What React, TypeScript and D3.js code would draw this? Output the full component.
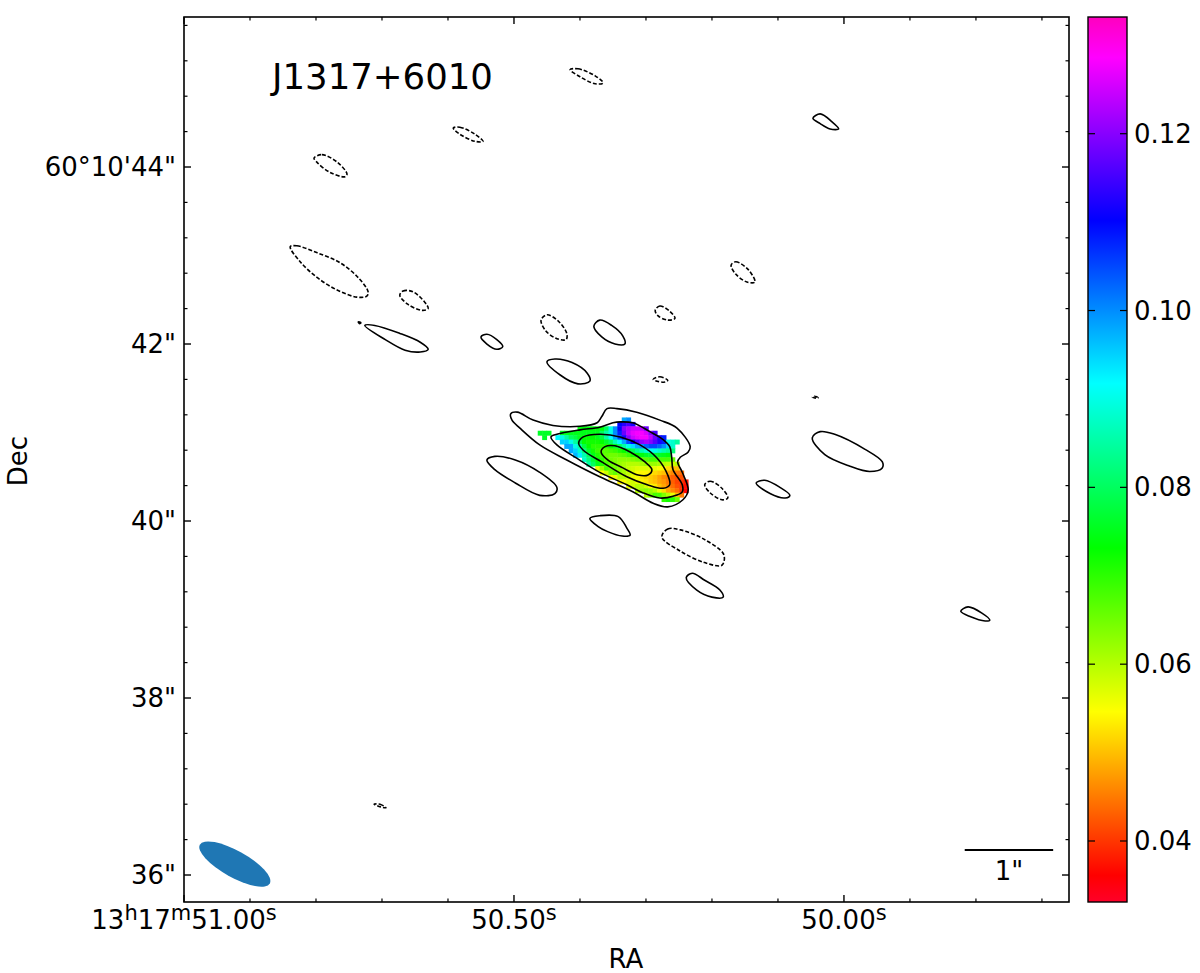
import React from 'react';
import { scaleLinear, line, curveCatmullRomClosed, interpolateRgb } from 'd3';

// colour bar
const vMin = 0.0331;
const vMax = 0.1332;
const colorbarTicks = [0.04, 0.06, 0.08, 0.1, 0.12];
// gist_rainbow
const rainbowStops: [number, string][] = [
  [0, '#ff0029'], [0.03, '#ff0000'], [0.215, '#ffff00'], [0.4, '#00ff00'],
  [0.586, '#00ffff'], [0.77, '#0000ff'], [0.954, '#ff00ff'], [1, '#ff00bf'],
];

// axes: RA seconds of 13h17m, Dec arcsec of 60d10m
const raDomain = [51.0, 49.659];
const decDomain = [35.695, 45.695];
const raMajor = [51.0, 50.5, 50.0];
const raMinor = [50.9, 50.8, 50.7, 50.6, 50.4, 50.3, 50.2, 50.1, 49.9, 49.8, 49.7];
const raLabels = ['51.00', '50.50', '50.00'];
const decMajor = [36, 38, 40, 42, 44];
const decLabels = ['36"', '38"', '40"', '42"', '60°10\'44"'];
const decMinor = [36.4, 36.8, 37.2, 37.6, 38.4, 38.8, 39.2, 39.6, 40.4, 40.8, 41.2, 41.6, 42.4, 42.8, 43.2, 43.6, 44.4, 44.8, 45.2, 45.6];

// index map: row, first column, values
const imageRa0 = 50.464;
const imageDec0 = 41.17;
const cellRa = 0.0067;
const cellDec = 0.05;
const imageRows: [number, number, number[]][] = [
  [0, 19, [0.098, 0.1]],
  [1, 18, [0.11, 0.113, 0.115, 0.112]],
  [2, 9, [0.074, 0.074, 0.074, 0.074, 0.074, 0.074, 0.08, 0.09, 0.1, 0.11, 0.12, 0.123, 0.125, 0.125, 0.124, 0.118]],
  [3, 0, [0.076, 0.076, 0.076]],
  [3, 5, [0.075, 0.075, 0.075, 0.075, 0.075, 0.075, 0.075, 0.075, 0.075, 0.08, 0.085, 0.09, 0.1, 0.108, 0.118, 0.124, 0.127, 0.128, 0.128, 0.126, 0.12, 0.115]],
  [4, 1, [0.076]],
  [4, 4, [0.092, 0.09, 0.085, 0.08, 0.078, 0.075, 0.073, 0.073, 0.073, 0.075, 0.078, 0.085, 0.092, 0.098, 0.105, 0.112, 0.12, 0.125, 0.127, 0.128, 0.128, 0.124, 0.118, 0.112, 0.108]],
  [5, 5, [0.095, 0.095, 0.09, 0.085, 0.078, 0.073, 0.072, 0.072, 0.072, 0.073, 0.076, 0.08, 0.086, 0.092, 0.098, 0.105, 0.11, 0.116, 0.12, 0.122, 0.12, 0.116, 0.112, 0.108, 0.09, 0.088, 0.085]],
  [6, 6, [0.098, 0.098, 0.09, 0.085, 0.078, 0.073, 0.07, 0.07, 0.07, 0.071, 0.073, 0.076, 0.08, 0.085, 0.09, 0.094, 0.098, 0.1, 0.103, 0.105, 0.105, 0.103, 0.1, 0.095, 0.088]],
  [7, 7, [0.098, 0.095, 0.088, 0.082, 0.076, 0.072, 0.069, 0.067, 0.067, 0.068, 0.069, 0.071, 0.073, 0.076, 0.079, 0.083, 0.086, 0.089, 0.091, 0.09, 0.088, 0.086, 0.084, 0.082]],
  [8, 8, [0.097, 0.093, 0.086, 0.08, 0.075, 0.071, 0.068, 0.066, 0.065, 0.065, 0.066, 0.067, 0.069, 0.071, 0.073, 0.074, 0.076, 0.077, 0.077, 0.076, 0.075, 0.074]],
  [9, 10, [0.088, 0.082, 0.077, 0.073, 0.07, 0.067, 0.065, 0.064, 0.063, 0.063, 0.063, 0.064, 0.065, 0.066, 0.067, 0.068, 0.068, 0.068, 0.068, 0.068, 0.066]],
  [10, 11, [0.085, 0.08, 0.075, 0.071, 0.068, 0.066, 0.064, 0.062, 0.061, 0.06, 0.06, 0.06, 0.061, 0.062, 0.062, 0.062, 0.061, 0.06, 0.059, 0.058, 0.06]],
  [11, 13, [0.056, 0.062, 0.068, 0.066, 0.065, 0.063, 0.061, 0.059, 0.058, 0.057, 0.057, 0.057, 0.057, 0.056, 0.055, 0.054, 0.052, 0.05, 0.05]],
  [12, 14, [0.055, 0.058, 0.064, 0.066, 0.063, 0.061, 0.059, 0.057, 0.055, 0.054, 0.054, 0.053, 0.052, 0.051, 0.05, 0.048, 0.046, 0.045, 0.044]],
  [13, 16, [0.054, 0.056, 0.06, 0.06, 0.058, 0.056, 0.055, 0.053, 0.052, 0.051, 0.05, 0.048, 0.046, 0.045, 0.043, 0.042, 0.042]],
  [14, 18, [0.054, 0.055, 0.057, 0.058, 0.056, 0.054, 0.053, 0.051, 0.05, 0.048, 0.047, 0.045, 0.043, 0.041, 0.04, 0.038]],
  [15, 20, [0.056, 0.058, 0.06, 0.06, 0.058, 0.055, 0.053, 0.05, 0.048, 0.046, 0.044, 0.042, 0.04, 0.037]],
  [16, 22, [0.06, 0.062, 0.063, 0.062, 0.06, 0.056, 0.052, 0.048, 0.046, 0.044, 0.04, 0.036]],
  [17, 24, [0.06, 0.064, 0.068, 0.068, 0.064, 0.06, 0.056, 0.05, 0.045]],
  [18, 28, [0.07, 0.072, 0.07, 0.065]],
];

type Pt = [number, number];

// contours as [RA s, Dec arcsec]
const mainOuter: Pt[] = [[50.505,41.21],[50.495,41.23],[50.471,41.14],[50.441,41.08],[50.4,41.07],[50.374,41.11],[50.367,41.18],[50.359,41.27],[50.344,41.27],[50.314,41.23],[50.279,41.14],[50.253,41.05],[50.233,40.84],[50.236,40.78],[50.248,40.72],[50.252,40.67],[50.245,40.55],[50.236,40.35],[50.244,40.24],[50.267,40.16],[50.289,40.2],[50.32,40.33],[50.37,40.5],[50.42,40.69],[50.461,40.86],[50.491,41.05],[50.503,41.14]];
const mainSecond: Pt[] = [[50.444,40.95],[50.435,40.98],[50.4,41.03],[50.37,41.06],[50.35,41.11],[50.339,41.12],[50.32,41.11],[50.294,41.01],[50.274,40.92],[50.264,40.84],[50.261,40.72],[50.259,40.58],[50.245,40.41],[50.245,40.33],[50.259,40.28],[50.279,40.26],[50.305,40.32],[50.329,40.41],[50.37,40.55],[50.405,40.71],[50.435,40.86]];
const mainThird: Pt[] = [[50.402,40.88],[50.395,40.95],[50.37,40.98],[50.339,40.95],[50.309,40.86],[50.283,40.71],[50.267,40.52],[50.264,40.41],[50.274,40.37],[50.298,40.41],[50.329,40.5],[50.365,40.66],[50.395,40.8]];
const mainInner: Pt[] = [[50.368,40.78],[50.362,40.84],[50.347,40.85],[50.324,40.78],[50.302,40.67],[50.291,40.58],[50.297,40.52],[50.312,40.52],[50.335,40.6],[50.358,40.69]];

const solidContours: Pt[][] = [
  mainOuter, mainSecond, mainThird, mainInner,
  [[50.541,40.69],[50.529,40.73],[50.498,40.69],[50.461,40.55],[50.435,40.38],[50.438,40.31],[50.461,40.29],[50.498,40.43],[50.529,40.58]],
  [[50.385,40.03],[50.37,40.06],[50.342,40.05],[50.329,39.92],[50.324,39.84],[50.336,39.83],[50.358,39.88],[50.373,39.94]],
  [[50.239,39.36],[50.23,39.41],[50.211,39.33],[50.188,39.22],[50.183,39.14],[50.2,39.14],[50.223,39.22]],
  [[50.45,41.8],[50.438,41.83],[50.412,41.79],[50.389,41.67],[50.385,41.58],[50.403,41.55],[50.43,41.65]],
  [[50.55,42.08],[50.541,42.11],[50.526,42.05],[50.517,41.97],[50.526,41.94],[50.541,42.0]],
  [[50.379,42.2],[50.37,42.27],[50.352,42.21],[50.335,42.09],[50.332,42.0],[50.347,42.0],[50.367,42.08]],
  [[50.048,40.94],[50.036,41.01],[50.014,40.98],[49.968,40.81],[49.942,40.67],[49.942,40.6],[49.961,40.56],[49.991,40.62],[50.029,40.75]],
  [[50.133,40.43],[50.12,40.46],[50.097,40.38],[50.082,40.29],[50.089,40.26],[50.112,40.31]],
  [[49.823,38.98],[49.812,39.03],[49.791,38.96],[49.779,38.88],[49.786,38.87],[49.809,38.92]],
  [[50.047,44.55],[50.036,44.6],[50.018,44.51],[50.008,44.43],[50.021,44.43],[50.036,44.49]],
  [[50.726,42.21],[50.711,42.21],[50.673,42.12],[50.642,42.02],[50.63,41.94],[50.642,41.91],[50.665,41.93],[50.695,42.05]],
  [[50.736,42.25],[50.732,42.24],[50.734,42.23]],
];

const dashedContours: Pt[][] = [
  [[50.415,45.1],[50.403,45.11],[50.377,45.03],[50.365,44.95],[50.377,44.94],[50.4,45.02]],
  [[50.592,44.44],[50.582,44.45],[50.559,44.37],[50.547,44.29],[50.559,44.29],[50.582,44.37]],
  [[50.803,44.1],[50.791,44.14],[50.767,44.05],[50.753,43.92],[50.756,43.89],[50.779,43.94],[50.798,44.05]],
  [[50.839,43.1],[50.829,43.11],[50.798,43.03],[50.764,42.92],[50.736,42.75],[50.721,42.59],[50.723,42.54],[50.738,42.53],[50.768,42.61],[50.798,42.75],[50.824,42.93]],
  [[50.673,42.55],[50.668,42.6],[50.653,42.59],[50.635,42.47],[50.63,42.4],[50.639,42.38],[50.661,42.45]],
  [[50.459,42.27],[50.45,42.33],[50.433,42.26],[50.42,42.12],[50.421,42.05],[50.435,42.06],[50.452,42.15]],
  [[50.286,42.38],[50.279,42.43],[50.264,42.37],[50.256,42.29],[50.267,42.27],[50.282,42.32]],
  [[50.171,42.89],[50.164,42.93],[50.145,42.84],[50.135,42.7],[50.147,42.7],[50.164,42.79]],
  [[50.211,40.41],[50.203,40.45],[50.185,40.37],[50.176,40.26],[50.185,40.24],[50.203,40.32]],
  [[50.276,39.82],[50.267,39.91],[50.248,39.9],[50.211,39.79],[50.182,39.62],[50.185,39.5],[50.211,39.53],[50.248,39.66]],
  [[50.289,41.6],[50.279,41.63],[50.267,41.59],[50.271,41.57],[50.283,41.58]],
  [[50.048,41.4],[50.044,41.41],[50.039,41.39],[50.044,41.39]],
  [[50.712,36.8],[50.703,36.8],[50.694,36.76],[50.702,36.77]],
];

const beam = { ra: 50.923, dec: 36.124, major: 0.452, minor: 0.15, angle: 29 };
const scaleBarRa = [49.817, 49.683];

const left = 184;
const right = 1069;
const top = 17;
const bottom = 902;
const cbLeft = 1088;
const cbRight = 1127;
const majorLen = 7;
const minorLen = 3.5;
const fontSize = 26;
const supSize = 21;
const font = 'DejaVu Sans';

const x = scaleLinear().domain(raDomain).range([left, right]);
const y = scaleLinear().domain(decDomain).range([bottom, top]);
const cbY = scaleLinear().domain([vMin, vMax]).range([bottom, top]);

const rainbow = scaleLinear<string>()
  .domain(rainbowStops.map(s => s[0]))
  .range(rainbowStops.map(s => s[1]))
  .interpolate(interpolateRgb.gamma(1) as any)
  .clamp(true);
const color = (v: number) => rainbow((v - vMin) / (vMax - vMin));

const contourPath = line<Pt>()
  .x(d => x(d[0]))
  .y(d => y(d[1]))
  .curve(curveCatmullRomClosed.alpha(0.5));

const pxPerArcsec = y(36) - y(37);

const App = () => {
  return (
    <svg width={1200} height={973} style={{ position: 'absolute', left: 0, top: 0 }} fontFamily={font} fontSize={fontSize} fill="#000">
      <defs>
        <linearGradient id="cb" x1="0" y1="1" x2="0" y2="0">
          {rainbowStops.map(s => <stop key={s[0]} offset={s[0]} stopColor={s[1]} />)}
        </linearGradient>
      </defs>

      {imageRows.map(([r, start, values]) => values.map((v, i) => {
        const ra = imageRa0 - (start + i) * cellRa;
        const dec = imageDec0 - r * cellDec;
        return (
          <rect key={r + '-' + start + '-' + i} x={x(ra)} y={y(dec)}
            width={x(ra - cellRa) - x(ra) + 0.5} height={y(dec - cellDec) - y(dec) + 0.5}
            fill={color(v)} />
        );
      }))}

      {solidContours.map((c, i) => (
        <path key={i} d={contourPath(c) as string} fill="none" stroke="#000" strokeWidth={1.6} />
      ))}
      {dashedContours.map((c, i) => (
        <path key={i} d={contourPath(c) as string} fill="none" stroke="#000" strokeWidth={1.6} strokeDasharray="4 2" />
      ))}

      <ellipse
        cx={0} cy={0}
        rx={beam.major * pxPerArcsec} ry={beam.minor * pxPerArcsec}
        fill="#1f77b4"
        transform={`translate(${x(beam.ra)},${y(beam.dec)}) rotate(${beam.angle})`}
      />

      <line x1={x(scaleBarRa[0])} x2={x(scaleBarRa[1])} y1={850} y2={850} stroke="#000" strokeWidth={2} />
      <text x={(x(scaleBarRa[0]) + x(scaleBarRa[1])) / 2} y={880} textAnchor="middle">1"</text>

      <text x={272} y={89} fontSize={35.5}>J1317+6010</text>

      {/* frame and ticks */}
      <rect x={left} y={top} width={right - left} height={bottom - top} fill="none" stroke="#000" strokeWidth={1.6} />
      {raMajor.map(t => (
        <g key={t} stroke="#000" strokeWidth={1.4}>
          <line x1={x(t)} x2={x(t)} y1={bottom} y2={bottom - majorLen} />
          <line x1={x(t)} x2={x(t)} y1={top} y2={top + majorLen} />
        </g>
      ))}
      {raMinor.map(t => (
        <g key={t} stroke="#000" strokeWidth={1.2}>
          <line x1={x(t)} x2={x(t)} y1={bottom} y2={bottom - minorLen} />
          <line x1={x(t)} x2={x(t)} y1={top} y2={top + minorLen} />
        </g>
      ))}
      {decMajor.map(t => (
        <g key={t} stroke="#000" strokeWidth={1.4}>
          <line x1={left} x2={left + majorLen} y1={y(t)} y2={y(t)} />
          <line x1={right} x2={right - majorLen} y1={y(t)} y2={y(t)} />
        </g>
      ))}
      {decMinor.map(t => (
        <g key={t} stroke="#000" strokeWidth={1.2}>
          <line x1={left} x2={left + minorLen} y1={y(t)} y2={y(t)} />
          <line x1={right} x2={right - minorLen} y1={y(t)} y2={y(t)} />
        </g>
      ))}

      {/* only the first RA label carries hours and minutes */}
      {raMajor.map((t, i) => (
        <text key={t} x={x(t)} y={929} textAnchor="middle">
          {i === 0 && <tspan>13</tspan>}
          {i === 0 && <tspan fontSize={supSize} dy={-9}>h</tspan>}
          {i === 0 && <tspan dy={9}>17</tspan>}
          {i === 0 && <tspan fontSize={supSize} dy={-9}>m</tspan>}
          <tspan dy={i === 0 ? 9 : 0}>{raLabels[i]}</tspan>
          <tspan fontSize={supSize} dy={-9}>s</tspan>
        </text>
      ))}
      {decMajor.map((t, i) => (
        <text key={t} x={176} y={y(t) + 9} textAnchor="end">{decLabels[i]}</text>
      ))}
      <text x={626} y={968} textAnchor="middle">RA</text>
      <text transform="translate(27,461) rotate(-90)" textAnchor="middle">Dec</text>

      {/* colour bar */}
      <rect x={cbLeft} y={top} width={cbRight - cbLeft} height={bottom - top} fill="url(#cb)" stroke="#000" strokeWidth={1.4} />
      {colorbarTicks.map(t => (
        <g key={t}>
          <line x1={cbLeft} x2={cbLeft + majorLen} y1={cbY(t)} y2={cbY(t)} stroke="#000" strokeWidth={1.2} />
          <line x1={cbRight} x2={cbRight - majorLen} y1={cbY(t)} y2={cbY(t)} stroke="#000" strokeWidth={1.2} />
          <text x={1134} y={cbY(t) + 9}>{t.toFixed(2)}</text>
        </g>
      ))}
    </svg>
  );
};

export default App;
